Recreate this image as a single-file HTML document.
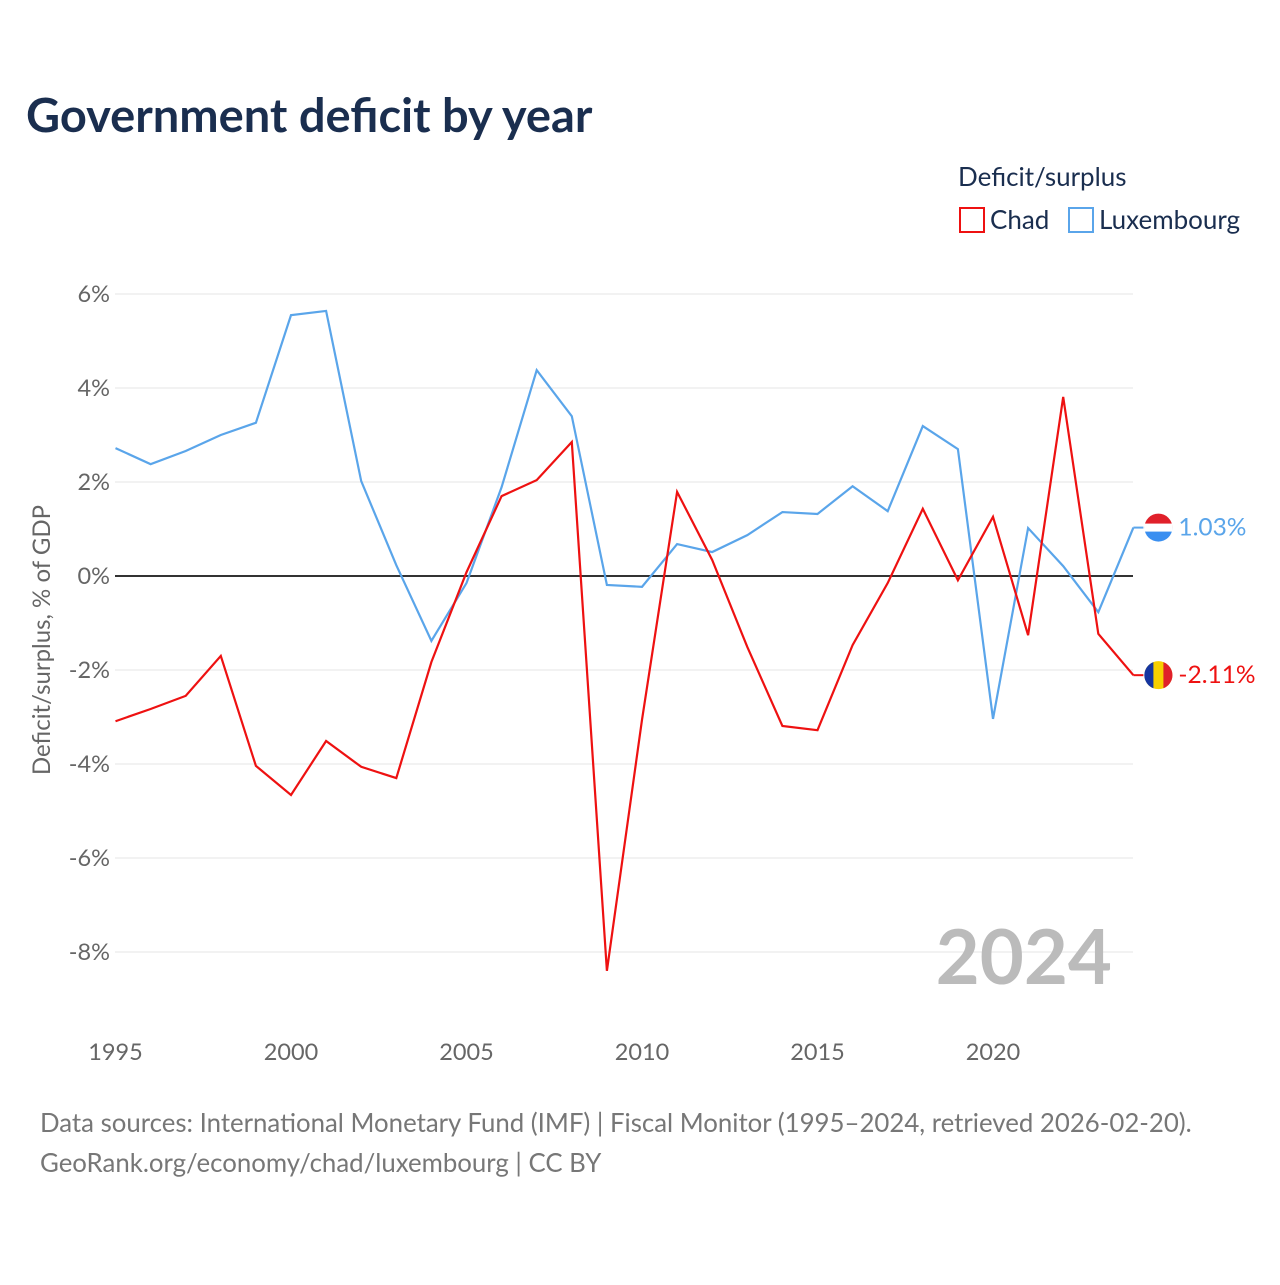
<!DOCTYPE html>
<html><head><meta charset="utf-8"><style>
body{margin:0;background:#fff;font-family:"Liberation Sans",sans-serif}
svg text{font-family:"Lato","Liberation Sans",sans-serif}
</style></head><body>
<svg id="c" width="1280" height="1280" xmlns="http://www.w3.org/2000/svg">
<text x="26" y="132" font-size="47" font-weight="bold" fill="#1a2e4f">Government deficit by year</text>
<text x="958" y="186" font-size="26" fill="#1a2e4f">Deficit/surplus</text>
<g><rect x="960" y="208" width="24" height="24" fill="none" stroke="#ee1111" stroke-width="2"/><text x="990" y="229" font-size="26" fill="#1a2e4f">Chad</text></g>
<g><rect x="1069" y="208" width="24" height="24" fill="none" stroke="#5aa5ea" stroke-width="2"/><text x="1099" y="229" font-size="26" fill="#1a2e4f">Luxembourg</text></g>
<g id="grid"></g><g id="series"></g>
<text transform="translate(50,640) rotate(-90)" text-anchor="middle" font-size="24" fill="#666">Deficit/surplus, % of GDP</text>
<text x="1112" y="984" text-anchor="end" font-size="76" font-weight="bold" fill="#bbb">2024</text>
<text x="40" y="1132" font-size="25.8" fill="#777">Data sources: International Monetary Fund (IMF) | Fiscal Monitor (1995–2024, retrieved 2026-02-20).</text>
<text x="40" y="1172" font-size="25.8" fill="#777">GeoRank.org/economy/chad/luxembourg | CC BY</text>
</svg>
<script>
const years=[1995,1996,1997,1998,1999,2000,2001,2002,2003,2004,2005,2006,2007,2008,2009,2010,2011,2012,2013,2014,2015,2016,2017,2018,2019,2020,2021,2022,2023,2024];
const chad=[-3.09,-2.83,-2.55,-1.70,-4.04,-4.66,-3.51,-4.06,-4.30,-1.83,0.08,1.70,2.04,2.85,-8.40,-3.06,1.79,0.34,-1.51,-3.19,-3.28,-1.47,-0.15,1.43,-0.09,1.26,-1.26,3.81,-1.23,-2.11];
const lux=[2.72,2.38,2.66,3.00,3.26,5.55,5.64,2.02,0.23,-1.38,-0.15,1.89,4.38,3.40,-0.19,-0.23,0.68,0.51,0.87,1.36,1.32,1.91,1.38,3.19,2.70,-3.04,1.02,0.21,-0.77,1.03];
const yTicks=[6,4,2,0,-2,-4,-6,-8];
const xTicks=[1995,2000,2005,2010,2015,2020];
const X=y=>115.5+(y-1995)*35.1, Y=v=>576-v*47;
const NS="http://www.w3.org/2000/svg";
const g=document.getElementById('grid'), s=document.getElementById('series');
function mk(t,a,p){const e=document.createElementNS(NS,t);for(const k in a)e.setAttribute(k,a[k]);p.appendChild(e);return e;}
yTicks.forEach(v=>{
 const l=mk('line',{x1:115,x2:1133,y1:Y(v),y2:Y(v),stroke:v===0?'#333':'#e6e6e6','stroke-width':v===0?2:1},g);
 
 
 const t=mk('text',{x:110,y:Y(v)+8,'text-anchor':'end','font-size':23.5,fill:'#666'},g);t.textContent=v+'%';
 
 
});
xTicks.forEach(y=>{const t=mk('text',{x:X(y),y:1060,'text-anchor':'middle','font-size':23.5,fill:'#666'},g);t.textContent=y;
 
 });
function line(d,c,n){const p=mk('polyline',{points:d.map((v,i)=>X(years[i])+','+Y(v)).join(' '),fill:'none',stroke:c,'stroke-width':2.2},s);
 
 }
line(lux,'#5aa5ea','luxembourg-line');line(chad,'#ee1111','chad-line');
function endLabel(d,c,n,flag){const v=d[d.length-1],x=X(years[years.length-1]),y=Y(v);
 mk('line',{x1:x,x2:x+10,y1:y,y2:y,stroke:c,'stroke-width':2},s);
 const f=mk('g',{},s);
 const cx=x+25;
 if(flag==='lu'){mk('path',{d:`M${cx-14},${y} A14,14 0 0 1 ${cx+14},${y}Z`,fill:'#e0202a'},f);mk('path',{d:`M${cx-14},${y} A14,14 0 0 0 ${cx+14},${y}Z`,fill:'#3a8ff0'},f);mk('rect',{x:cx-14,y:y-4,width:28,height:8,fill:'#fff'},f);}
 else{mk('circle',{cx:cx,cy:y,r:14,fill:'#f7d000'},f);mk('path',{d:`M${cx-5},${y-13.1} A14,14 0 0 0 ${cx-5},${y+13.1}Z`,fill:'#1535a0'},f);mk('path',{d:`M${cx+5},${y-13.1} A14,14 0 0 1 ${cx+5},${y+13.1}Z`,fill:'#e0202a'},f);}
 const t=mk('text',{x:x+45,y:y+8,'font-size':24.5,fill:c},s);t.textContent=v.toFixed(2)+'%';
 
 }
endLabel(lux,'#5aa5ea','luxembourg','lu');endLabel(chad,'#ee1111','chad','td');
</script>
</body></html>
